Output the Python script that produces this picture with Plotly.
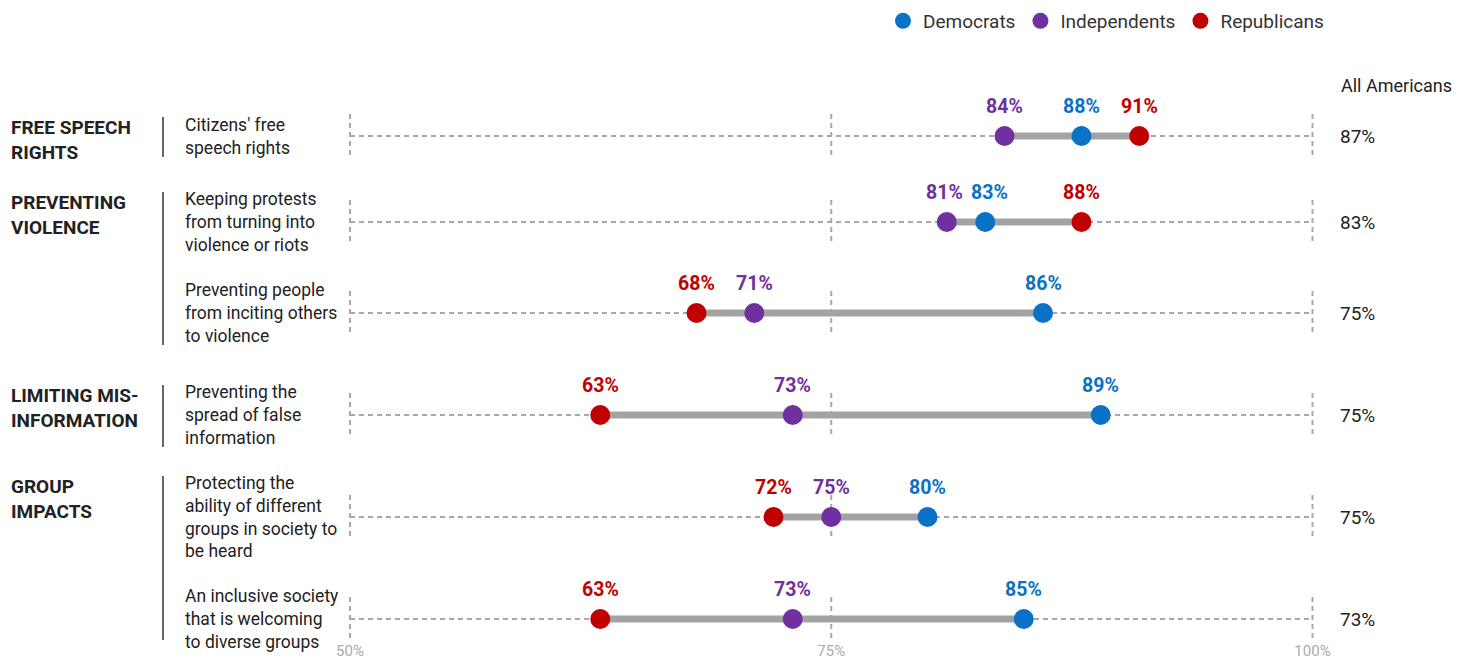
import plotly.graph_objects as go

# --- data -------------------------------------------------------------
categories = ["FREE SPEECH<br>RIGHTS", "PREVENTING<br>VIOLENCE",
              "LIMITING MIS-<br>INFORMATION", "GROUP<br>IMPACTS"]
category_rows = [[0], [1, 2], [3], [4, 5]]
items = [
    "Citizens' free<br>speech rights",
    "Keeping protests<br>from turning into<br>violence or riots",
    "Preventing people<br>from inciting others<br>to violence",
    "Preventing the<br>spread of false<br>information",
    "Protecting the<br>ability of different<br>groups in society to<br>be heard",
    "An inclusive society<br>that is welcoming<br>to diverse groups",
]
democrats = [88, 83, 86, 89, 80, 85]
independents = [84, 81, 71, 73, 75, 73]
republicans = [91, 88, 68, 63, 72, 63]
all_americans = [87, 83, 75, 75, 75, 73]
tick_values = [50, 75, 100]
tick_labels = ["50%", "75%", "100%"]

# --- layout constants ---------------------------------------------------
W, H = 1471, 661
PLOT_H = 640
ROW_Y = [136, 222, 313, 415, 517, 619]   # vertical position of each row
PX_PER_PT = 19.25
X0 = 50 - 350 / PX_PER_PT
X1 = X0 + W / PX_PER_PT
LINE_H = 11                              # half of a text line height

FONT = "Roboto"
DARK = "#222222"
GRID = "#a8a8a8"
parties = [
    ("Democrats", democrats, "#0a72c6"),
    ("Independents", independents, "#7030a0"),
    ("Republicans", republicans, "#c00000"),
]


def px(x):
    return x / W


fig = go.Figure()

# gray connector spanning the three groups in each row
cx, cy = [], []
for i, y in enumerate(ROW_Y):
    vals = [democrats[i], independents[i], republicans[i]]
    cx += [min(vals), max(vals), None]
    cy += [y, y, None]
fig.add_trace(go.Scatter(x=cx, y=cy, mode="lines",
                         line=dict(color="#a3a3a3", width=7),
                         hoverinfo="skip", showlegend=False))

# party dots
for name, vals, color in parties:
    fig.add_trace(go.Scatter(
        x=vals, y=ROW_Y, mode="markers", name=name,
        marker=dict(size=20, color=color, line=dict(width=0)),
        hovertemplate=name + ": %{x}%<extra></extra>"))

shapes = []
annotations = []

for i, y in enumerate(ROW_Y):
    # dotted guide across the scale
    shapes.append(dict(type="line", xref="x", yref="y", x0=50, x1=100,
                       y0=y, y1=y, layer="below",
                       line=dict(color=GRID, width=2, dash="5px,4px")))
    for t in tick_values:
        shapes.append(dict(type="line", xref="x", yref="y", x0=t, x1=t,
                           y0=y - 22, y1=y + 22, layer="below",
                           line=dict(color=GRID, width=2, dash="5px,4px")))
    # value labels above the dots; nudge apart labels of close dots
    row_vals = sorted((vals[i], color) for _, vals, color in parties)
    for k, (v, color) in enumerate(row_vals):
        shift = 0
        if k > 0 and v - row_vals[k - 1][0] <= 2:
            shift = 4
        if k < 2 and row_vals[k + 1][0] - v <= 2:
            shift = -2
        annotations.append(dict(
            x=v, y=y, xref="x", yref="y", text=f"<b>{v}%</b>",
            showarrow=False, yshift=30, xshift=shift,
            font=dict(family=FONT, size=19.5, color=color)))
    # item description
    annotations.append(dict(
        x=px(183), y=y, xref="paper", yref="y", text=items[i],
        showarrow=False, xanchor="left", yanchor="middle", align="left",
        font=dict(family=FONT, size=17.5, color=DARK)))
    # overall figure on the right
    annotations.append(dict(
        x=px(1357), y=y, xref="paper", yref="y", text=f"{all_americans[i]}%",
        showarrow=False, xanchor="center", yanchor="middle",
        font=dict(family=FONT, size=19, color=DARK)))

# category headings with divider bars
for cat, rows in zip(categories, category_rows):
    first, last = rows[0], rows[-1]
    n_first = items[first].count("<br>") + 1
    n_last = items[last].count("<br>") + 1
    top = ROW_Y[first] - n_first * LINE_H
    bottom = ROW_Y[last] + n_last * LINE_H
    annotations.append(dict(
        x=px(9), y=top, xref="paper", yref="y", text=f"<b>{cat}</b>",
        showarrow=False, xanchor="left", yanchor="top", align="left",
        font=dict(family=FONT, size=19, color=DARK)))
    shapes.append(dict(type="line", xref="paper", yref="y",
                       x0=px(163), x1=px(163), y0=top + 3, y1=bottom - 1,
                       line=dict(color="#333333", width=1.5)))

annotations.append(dict(
    x=px(1396), y=85, xref="paper", yref="y", text="All Americans",
    showarrow=False, xanchor="center", yanchor="middle",
    font=dict(family=FONT, size=18, color=DARK)))

fig.update_layout(
    width=W, height=H,
    margin=dict(l=0, r=0, t=0, b=H - PLOT_H),
    plot_bgcolor="white", paper_bgcolor="white",
    shapes=shapes, annotations=annotations,
    showlegend=True,
    legend=dict(orientation="h", x=px(883), xanchor="left",
                y=1 - 21 / PLOT_H, yanchor="middle",
                font=dict(family=FONT, size=19, color="#333333"),
                itemwidth=30, bgcolor="rgba(0,0,0,0)"),
    xaxis=dict(range=[X0, X1], showgrid=False, zeroline=False,
               showline=False, ticks="", tickvals=tick_values,
               ticktext=tick_labels, automargin=False,
               tickfont=dict(family=FONT, size=15, color="#aaaaaa")),
    yaxis=dict(range=[PLOT_H, 0], visible=False, showgrid=False,
               zeroline=False, automargin=False),
)

fig.write_html("out.html")
